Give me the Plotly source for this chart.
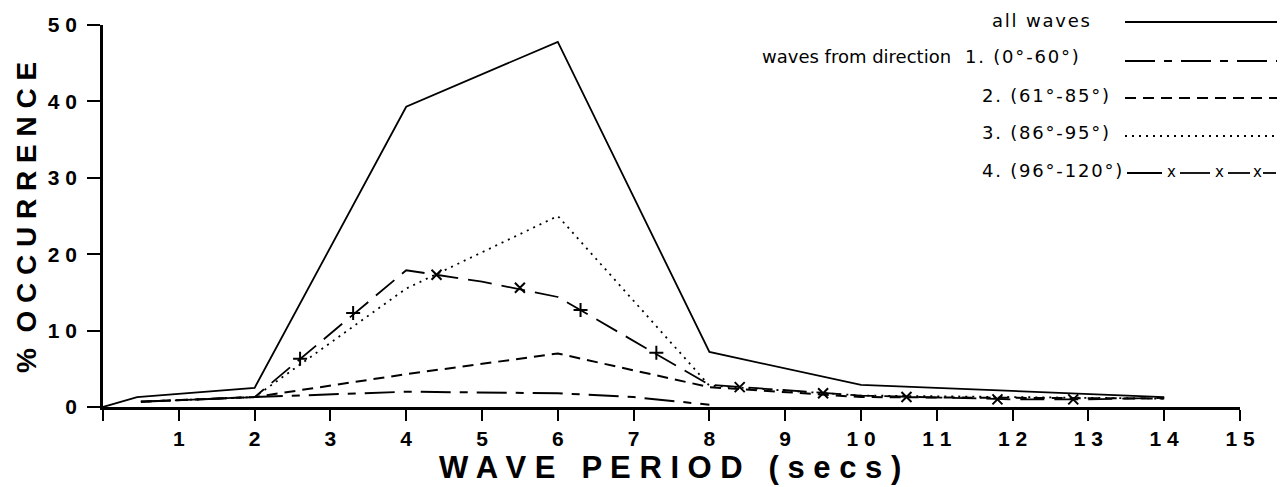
import plotly.graph_objects as go

# ---------------- data ----------------
period_ticks = list(range(0, 16))
period_labels = ["", "1", "2", "3", "4", "5", "6", "7", "8", "9",
                 "1 0", "1 1", "1 2", "1 3", "1 4", "1 5"]
occ_ticks = [0, 10, 20, 30, 40, 50]
occ_labels = ["0", "1 0", "2 0", "3 0", "4 0", "5 0"]

all_x = [0, 0.45, 2, 4, 6, 8, 10, 14]
all_y = [0, 1.3, 2.5, 39.3, 47.8, 7.2, 2.9, 1.3]

dir1_x = [0.5, 2, 4, 6, 7, 8]
dir1_y = [0.7, 1.3, 2.0, 1.8, 1.3, 0.3]

dir2_x = [0.5, 2, 4, 6, 8, 10, 14]
dir2_y = [0.7, 1.3, 4.3, 7.0, 2.6, 1.3, 1.1]

dir3_x = [0.5, 2, 4, 6, 8, 10, 14]
dir3_y = [0.7, 1.3, 15.5, 25.0, 2.8, 1.5, 1.1]

dir4_x = [0.5, 2, 4, 5, 5.7, 6, 8, 10, 12, 13, 14]
dir4_y = [0.7, 1.3, 17.9, 16.4, 15.0, 14.4, 2.9, 1.5, 1.0, 1.0, 1.2]

dir4_mark_x = [2.6, 3.3, 4.4, 5.5, 6.3, 7.3, 8.4, 9.5, 10.6, 11.8, 12.8]
dir4_mark_y = [6.3, 12.3, 17.3, 15.6, 12.7, 7.1, 2.6, 1.8, 1.3, 1.0, 1.0]

legend_labels = ["all waves", "1. (0°-60°)", "2. (61°-85°)",
                 "3. (86°-95°)", "4. (96°-120°)"]
legend_prefix = "waves from direction"

# ---------------- styling ----------------
OFF = 8                      # default body margin of the html page
W, H = 1288 - OFF, 487 - OFF
L, R, T, B = 103, 1240, 25, 407   # plot area in screen pixels
BLACK = "black"
DASH1 = "30px,9px,8px,9px"
DASH2 = "11px,7px"
DASH3 = "2px,5px"
DASH4 = "24px,10px"
mark_symbols = ["cross-thin", "cross-thin", "x-thin", "x-thin", "cross-thin",
                "cross-thin", "x-thin", "x-thin", "x-thin", "x-thin", "x-thin"]


def px(x):
    return (x - L) / (R - L)


def py(y):
    return (B - y) / (B - T)


def spaced(s, sep="\u200a"):
    return sep.join(s)


fig = go.Figure()
fig.add_trace(go.Scatter(x=all_x, y=all_y, mode="lines",
                         line=dict(color=BLACK, width=1.8), showlegend=False))
fig.add_trace(go.Scatter(x=dir1_x, y=dir1_y, mode="lines",
                         line=dict(color=BLACK, width=2, dash=DASH1), showlegend=False))
fig.add_trace(go.Scatter(x=dir2_x, y=dir2_y, mode="lines",
                         line=dict(color=BLACK, width=2, dash=DASH2), showlegend=False))
fig.add_trace(go.Scatter(x=dir3_x, y=dir3_y, mode="lines",
                         line=dict(color=BLACK, width=1.8, dash=DASH3), showlegend=False))
fig.add_trace(go.Scatter(x=dir4_x, y=dir4_y, mode="lines",
                         line=dict(color=BLACK, width=1.8, dash=DASH4), showlegend=False))
fig.add_trace(go.Scatter(x=dir4_mark_x, y=dir4_mark_y, mode="markers",
                         marker=dict(symbol=mark_symbols, size=10, color=BLACK,
                                     line=dict(color=BLACK, width=2)),
                         showlegend=False))

# ---------------- legend (text left, sample right) ----------------
anns = []
shapes = []
leg_font = dict(family="DejaVu Sans", size=18, color=BLACK)
text_left = [990, 963, 980, 980, 980]
text_y = [20, 57, 95, 133, 170]
line_y = [22, 61, 98, 136, 173]
for lab, xl, ty in zip(legend_labels, text_left, text_y):
    anns.append(dict(x=px(xl), y=py(ty), xref="paper", yref="paper",
                     text=spaced(lab), showarrow=False, xanchor="left",
                     yanchor="middle", font=leg_font))
anns.append(dict(x=px(953), y=py(text_y[1]), xref="paper", yref="paper",
                 text=legend_prefix, showarrow=False, xanchor="right",
                 yanchor="middle", font=leg_font))

sample_styles = [("solid", 1.8), (DASH1, 2), (DASH2, 2), (DASH3, 1.8)]
for (dash, wdt), ly in zip(sample_styles, line_y[:4]):
    shapes.append(dict(type="line", xref="paper", yref="paper",
                       x0=px(1125), x1=px(1277), y0=py(ly), y1=py(ly),
                       line=dict(color=BLACK, width=wdt, dash=dash)))
for x0, x1 in [(1127, 1162), (1180, 1210), (1228, 1250), (1263, 1276)]:
    shapes.append(dict(type="line", xref="paper", yref="paper",
                       x0=px(x0), x1=px(x1), y0=py(line_y[4]), y1=py(line_y[4]),
                       line=dict(color=BLACK, width=1.8)))
for xm in [1171, 1219, 1257]:
    anns.append(dict(x=px(xm), y=py(line_y[4] - 1), xref="paper", yref="paper",
                     text="x", showarrow=False, xanchor="center", yanchor="middle",
                     font=dict(family="DejaVu Sans", size=15, color=BLACK)))

# ---------------- axis titles ----------------
anns.append(dict(x=px(670), y=py(467), xref="paper", yref="paper",
                 text="W A V E   P E R I O D   ( s e c s )", showarrow=False,
                 xanchor="center", yanchor="middle",
                 font=dict(family="Liberation Sans", size=31, color=BLACK, weight="bold")))
anns.append(dict(x=px(27), y=py(218), xref="paper", yref="paper",
                 text="%  O C C U R R E N C E", showarrow=False, textangle=-90,
                 xanchor="center", yanchor="middle",
                 font=dict(family="Liberation Sans", size=28, color=BLACK, weight="bold")))

tick_font = dict(family="Liberation Sans", size=21, color=BLACK, weight="bold")
fig.update_layout(
    width=W, height=H,
    margin=dict(l=L - OFF, r=W - (R - OFF), t=T - OFF, b=H - (B - OFF),
                autoexpand=False),
    paper_bgcolor="white", plot_bgcolor="white",
    showlegend=False,
    annotations=anns, shapes=shapes,
    xaxis=dict(range=[0, 15], tickmode="array", tickvals=period_ticks,
               ticktext=period_labels, ticks="outside", ticklen=11, tickwidth=2,
               tickcolor=BLACK, showline=True, linecolor=BLACK, linewidth=2.5,
               showgrid=False, zeroline=False, tickfont=tick_font, fixedrange=True),
    yaxis=dict(range=[0, 50], tickmode="array", tickvals=occ_ticks,
               ticktext=occ_labels, ticks="outside", ticklen=13, tickwidth=2,
               tickcolor=BLACK, showline=True, linecolor=BLACK, linewidth=2.5,
               ticklabelstandoff=6,
               showgrid=False, zeroline=False, tickfont=tick_font, fixedrange=True),
)

fig.write_html("out.html")
